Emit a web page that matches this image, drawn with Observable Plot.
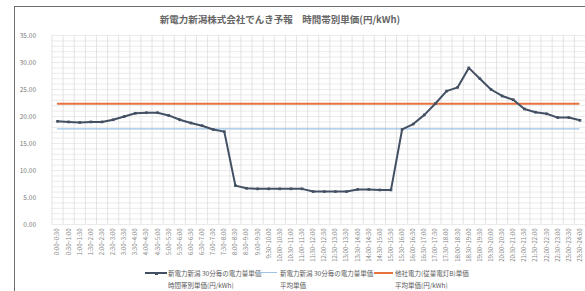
<!DOCTYPE html>
<html><head><meta charset="utf-8">
<script src="https://cdn.jsdelivr.net/npm/d3@7"></script>
<script src="https://cdn.jsdelivr.net/npm/@observablehq/plot@0.6"></script>
<style>
body{margin:0;background:#fff;font-family:"Noto Sans CJK JP","Noto Sans",sans-serif;}
#wrap{position:relative;width:585px;height:291px;overflow:hidden;background:#fff;}
#frame{position:absolute;left:14px;top:6px;width:700px;height:400px;border-left:1.5px solid #6e6e6e;border-top:1.5px solid #6e6e6e;}
#title{position:absolute;top:12px;left:0;width:560px;text-align:center;font-size:9.5px;font-weight:bold;color:#666;line-height:14px;white-space:pre;}
#chart{position:absolute;left:0;top:0;}
.leg{position:absolute;top:267px;font-size:6.5px;line-height:12px;color:#595959;white-space:nowrap;}
.sym{position:absolute;top:272px;height:2px;}
</style></head>
<body>
<div id="wrap">
  <div id="frame"></div>
  <div id="chart"></div>
  <div id="title"></div>
  <div id="legend"></div>
</div>
<script>
const timeLabels = [
 "0:00~0:30","0:30~1:00","1:00~1:30","1:30~2:00","2:00~2:30","2:30~3:00",
 "3:00~3:30","3:30~4:00","4:00~4:30","4:30~5:00","5:00~5:30","5:30~6:00",
 "6:00~6:30","6:30~7:00","7:00~7:30","7:30~8:00","8:00~8:30","8:30~9:00",
 "9:00~9:30","9:30~10:00","10:00~10:30","10:30~11:00","11:00~11:30","11:30~12:00",
 "12:00~12:30","12:30~13:00","13:00~13:30","13:30~14:00","14:00~14:30","14:30~15:00",
 "15:00~15:30","15:30~16:00","16:00~16:30","16:30~17:00","17:00~17:30","17:30~18:00",
 "18:00~18:30","18:30~19:00","19:00~19:30","19:30~20:00","20:00~20:30","20:30~21:00",
 "21:00~21:30","21:30~22:00","22:00~22:30","22:30~23:00","23:00~23:30","23:30~24:00"
];
const unitPrice = [
 19.1,19.0,18.9,19.0,19.0,19.4,20.0,20.6,20.7,20.7,20.2,19.4,
 18.8,18.3,17.6,17.2,7.2,6.7,6.6,6.6,6.6,6.6,6.6,6.1,
 6.1,6.1,6.1,6.5,6.5,6.4,6.4,17.6,18.6,20.3,22.4,24.7,
 25.4,29.0,27.0,25.0,23.8,23.1,21.4,20.8,20.5,19.8,19.8,19.3
];
const averagePrice = 17.7;
const otherCompanyPrice = 22.35;
const yTicks = [0,5,10,15,20,25,30,35];
const titleText = "新電力新潟株式会社でんき予報　時間帯別単価(円/kWh)";
const legendItems = [
 {name:"新電力新潟 30分毎の電力量単価", sub:"時間帯別単価(円/kWh)", color:"#435064", kind:"marker"},
 {name:"新電力新潟 30分毎の電力量単価", sub:"平均単価", color:"#9dc3e6", kind:"thin"},
 {name:"他社電力(従量電灯B)単価", sub:"平均単価(円/kWh)", color:"#e8713f", kind:"thick"}
];

const data = unitPrice.map((v,i)=>({i, v}));
const n = timeLabels.length;

const plot = Plot.plot({
  width: 585, height: 272,
  marginTop: 35, marginBottom: 48, marginLeft: 51.5, marginRight: 0,
  style: {fontFamily: '"Noto Sans CJK JP","Noto Sans",sans-serif', background: "transparent"},
  x: {type:"linear", domain:[-0.5, n-0.5], axis:null, label:null},
  y: {domain:[0,35], axis:null, label:null},
  marks: [
    Plot.ruleY(d3.range(0,36,1), {stroke:"#e6e6e6", strokeWidth:0.8}),
    Plot.ruleX(d3.range(-0.5, n, 1), {y1:0, y2:35, stroke:"#dcdcdc", strokeWidth:0.8}),
    Plot.axisY({ticks: yTicks, tickFormat: d=>d.toFixed(2), tickSize:0, tickPadding:16, fontSize:6.5, fill:"#7a7a7a", label:null}),
    Plot.axisX({ticks: d3.range(n), tickFormat: i=>timeLabels[i], tickRotate:-90, tickSize:0, tickPadding:4, fontSize:6, fill:"#808080", label:null}),
    Plot.ruleY([averagePrice], {x1:0, x2:n-1, stroke:"#9dc3e6", strokeWidth:1.3}),
    Plot.ruleY([otherCompanyPrice], {x1:0, x2:n-1, stroke:"#e8713f", strokeWidth:2}),
    Plot.line(data, {x:"i", y:"v", stroke:"#435064", strokeWidth:2}),
    Plot.dot(data, {x:"i", y:"v", r:1.5, fill:"#435064", symbol:"square"})
  ]
});
document.getElementById("chart").appendChild(plot);
document.getElementById("title").textContent = titleText;

const symX = [[145,167],[257,277],[374,393]];
const textX = [168, 280, 395];
const leg = document.getElementById("legend");
legendItems.forEach((it,k)=>{
  const s = document.createElement("div");
  s.className = "sym";
  s.style.left = symX[k][0]+"px";
  s.style.width = (symX[k][1]-symX[k][0])+"px";
  s.style.background = it.color;
  s.style.height = it.kind==="thin" ? "1px" : "2px";
  leg.appendChild(s);
  if (it.kind==="marker") {
    const m = document.createElement("div");
    m.style.cssText = `position:absolute;left:${(symX[k][0]+symX[k][1])/2-1.5}px;top:271.5px;width:3px;height:3px;background:${it.color}`;
    leg.appendChild(m);
  }
  const t = document.createElement("div");
  t.className = "leg";
  t.style.left = textX[k]+"px";
  t.innerHTML = it.name + "<br>" + it.sub;
  leg.appendChild(t);
});
</script>
</body></html>
